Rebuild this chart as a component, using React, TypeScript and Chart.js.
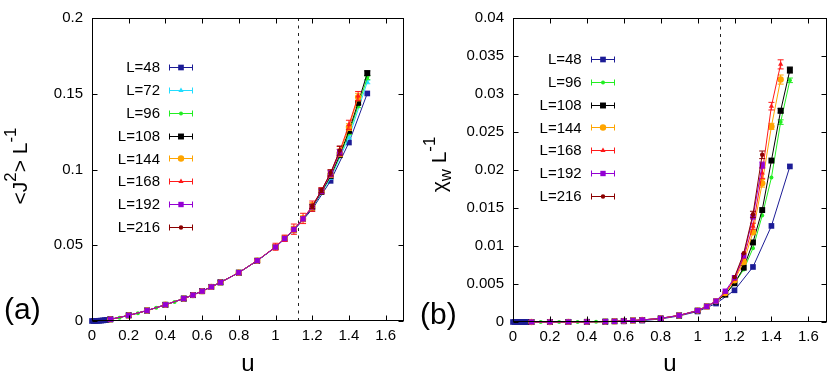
import React, { useEffect, useRef } from "react";
import { Chart, registerables } from "chart.js";
Chart.register(...registerables);

const FONT = '"Liberation Sans", Arial, Helvetica, sans-serif';

// ---------- data ----------
const LABELS = ["L=48", "L=72", "L=96", "L=108", "L=144", "L=168", "L=192", "L=216"];
const COLORS = ["#1c1c96", "#22ddff", "#22ee22", "#000000", "#ffa500", "#ff1a1a", "#9400d3", "#8b0000"];
const STYLES = ["rect", "triangle", "circle", "rect", "circle", "triangle", "rect", "circle"];
const RADII = [4, 3, 2, 4.2, 3.2, 3, 3.8, 2.2];

const U48 = [0, 0.01, 0.02, 0.03, 0.04, 0.05, 0.06, 0.07, 0.08, 0.1, 0.2, 0.3, 0.4, 0.5, 0.6, 0.7, 0.8, 0.9, 1.0, 1.1, 1.2, 1.3, 1.4, 1.5];
const U72 = [0.1, 0.2, 0.3, 0.4, 0.5, 0.6, 0.7, 0.8, 0.9, 1.0, 1.1, 1.2, 1.3, 1.4, 1.5];
const U96 = [0.1, 0.15, 0.2, 0.25, 0.3, 0.35, 0.4, 0.45, 0.5, 0.6, 0.7, 0.8, 0.9, 1.0, 1.1, 1.15, 1.2, 1.25, 1.3, 1.35, 1.4, 1.45, 1.5];
const U108 = [0.1, 0.2, 0.3, 0.4, 0.5, 0.55, 0.6, 0.65, 0.7, 0.8, 0.9, 1.0, 1.05, 1.1, 1.15, 1.2, 1.25, 1.3, 1.35, 1.4, 1.45, 1.5];
const U144 = [0.1, 0.2, 0.3, 0.4, 0.5, 0.55, 0.6, 0.65, 0.7, 0.8, 0.9, 1.0, 1.05, 1.1, 1.15, 1.2, 1.25, 1.3, 1.35, 1.4, 1.45];
const U168 = [0.1, 0.2, 0.3, 0.4, 0.5, 0.55, 0.6, 0.65, 0.7, 0.8, 0.9, 1.0, 1.05, 1.1, 1.15, 1.2, 1.25, 1.3, 1.35, 1.4, 1.45];
const U192 = [0.1, 0.2, 0.3, 0.4, 0.5, 0.55, 0.6, 0.65, 0.7, 0.8, 0.9, 1.0, 1.05, 1.1, 1.15, 1.2, 1.25, 1.3, 1.35];
const U216 = [1.2, 1.25, 1.3, 1.35];

// panel (a): <J^2> / L
const J48 = [0, 0.00001, 0.00004, 0.0001, 0.00018, 0.00028, 0.0004, 0.00054, 0.0007, 0.0011, 0.0038, 0.0069, 0.0107, 0.0148, 0.0197, 0.0255, 0.0319, 0.0397, 0.0487, 0.0598, 0.0738, 0.0925, 0.1178, 0.1502];
const J72 = [0.0011, 0.0037, 0.0069, 0.0107, 0.0148, 0.0197, 0.0255, 0.0319, 0.0398, 0.0488, 0.0602, 0.0748, 0.0942, 0.1212, 0.1578];
const J96 = [0.0011, 0.0021, 0.0037, 0.0051, 0.0069, 0.0087, 0.0107, 0.0126, 0.0148, 0.0197, 0.0255, 0.0319, 0.0398, 0.0488, 0.0603, 0.0672, 0.0751, 0.0849, 0.0955, 0.1088, 0.124, 0.142, 0.1605];
const J108 = [0.0011, 0.0037, 0.0069, 0.0107, 0.0148, 0.0171, 0.0197, 0.0225, 0.0255, 0.0319, 0.0398, 0.0488, 0.0545, 0.0604, 0.0673, 0.0752, 0.0852, 0.0958, 0.1095, 0.1255, 0.144, 0.1636];
const J144 = [0.0011, 0.0037, 0.0069, 0.0107, 0.0148, 0.0171, 0.0197, 0.0225, 0.0255, 0.0319, 0.0398, 0.0489, 0.0545, 0.0605, 0.0675, 0.0756, 0.0858, 0.0966, 0.111, 0.128, 0.1478];
const J168 = [0.0011, 0.0037, 0.0069, 0.0107, 0.0148, 0.0171, 0.0197, 0.0225, 0.0255, 0.032, 0.0399, 0.049, 0.0546, 0.0606, 0.0677, 0.0758, 0.086, 0.0975, 0.1122, 0.1295, 0.1485];
const J192 = [0.0011, 0.0037, 0.0069, 0.0107, 0.0148, 0.0171, 0.0197, 0.0225, 0.0255, 0.0319, 0.0398, 0.0488, 0.0544, 0.0604, 0.0674, 0.0754, 0.0856, 0.0972, 0.1112];
const J216 = [0.0757, 0.0862, 0.0978, 0.1125];
// error bars (last points of each series)
const EJ72 = [0.001, 0.0012];
const EJ96 = [0.001, 0.0012, 0.0012];
const EJ108 = [0.001, 0.0012, 0.0015];
const EJ144 = [0.0012, 0.0015, 0.0015, 0.002, 0.002, 0.0025, 0.0015, 0.0018, 0.0025, 0.0022, 0.0025];
const EJ168 = [0.0012, 0.0023, 0.0021, 0.0034, 0.0034, 0.0034, 0.002, 0.0022, 0.003, 0.003, 0.003];
const EJ192 = [0.0015, 0.002, 0.002];
const EJ216 = [0.0015, 0.0015, 0.002, 0.003];

// panel (b): chi_w / L
const X48 = [0, 0, 0, 0, 0, 0, 0, 0, 0, 0.000002, 0.000005, 0.00001, 0.00002, 0.00004, 0.00008, 0.00018, 0.0004, 0.0008, 0.00138, 0.00243, 0.00417, 0.00724, 0.01264, 0.02047];
const X96 = [0, 0.000002, 0.000004, 0.000006, 0.000009, 0.000013, 0.00002, 0.00003, 0.00005, 0.00013, 0.00026, 0.00047, 0.00086, 0.0015, 0.0027, 0.0037, 0.0051, 0.0069, 0.0097, 0.014, 0.019, 0.0263, 0.0318];
const X108 = [0.000001, 0.000004, 0.00001, 0.00002, 0.00005, 0.00009, 0.00014, 0.0002, 0.00027, 0.00048, 0.00087, 0.0015, 0.00205, 0.0027, 0.0036, 0.0051, 0.00715, 0.01047, 0.01473, 0.02124, 0.0278, 0.03315];
const X144 = [0.000001, 0.000004, 0.00001, 0.00002, 0.00005, 0.00009, 0.00014, 0.0002, 0.00027, 0.00048, 0.00087, 0.0015, 0.00205, 0.00275, 0.0038, 0.0055, 0.0079, 0.0118, 0.01825, 0.02574, 0.0319];
const X168 = [0.000001, 0.000004, 0.00001, 0.00002, 0.00005, 0.00009, 0.00014, 0.0002, 0.00027, 0.00048, 0.00087, 0.0015, 0.00205, 0.00275, 0.0039, 0.0056, 0.0085, 0.0126, 0.0196, 0.0284, 0.0339];
const X192 = [0.000001, 0.000004, 0.00001, 0.00002, 0.00005, 0.00009, 0.00014, 0.0002, 0.00027, 0.00048, 0.00087, 0.0015, 0.00205, 0.00275, 0.00405, 0.00583, 0.00873, 0.01383, 0.02064];
const X216 = [0.0059, 0.00906, 0.01417, 0.022];
const EX96 = [0.0003, 0.0003];
const EX108 = [0.0003, 0.0004];
const EX144 = [0.0005, 0.0004, 0.0006];
const EX168 = [0.0004, 0.0007, 0.0005, 0.0006];
const EX192 = [0.0004];
const EX216 = [0.0004, 0.0005];

const X_TICK_STEP = 0.2;
const U_MARK = 1.123;

// ---------- helpers ----------
type Series = { label: string; u: number[]; v: number[]; err: number[]; color: string; style: string; r: number };
type Seg = { t: string; sup?: boolean; sub?: boolean };

function tail(e: number[], n: number): number[] {
  const out = new Array(n).fill(0);
  for (let i = 0; i < e.length; i++) out[n - e.length + i] = e[i];
  return out;
}
function mk(i: number, u: number[], v: number[], e: number[]): Series {
  return { label: LABELS[i], u, v, err: tail(e, u.length), color: COLORS[i], style: STYLES[i], r: RADII[i] };
}

const SERIES_A: Series[] = [
  mk(0, U48, J48, []),
  mk(1, U72, J72, EJ72),
  mk(2, U96, J96, EJ96),
  mk(3, U108, J108, EJ108),
  mk(4, U144, J144, EJ144),
  mk(5, U168, J168, EJ168),
  mk(6, U192, J192, EJ192),
  mk(7, U216, J216, EJ216),
];
const SERIES_B: Series[] = [
  mk(0, U48, X48, []),
  mk(2, U96, X96, EX96),
  mk(3, U108, X108, EX108),
  mk(4, U144, X144, EX144),
  mk(5, U168, X168, EX168),
  mk(6, U192, X192, EX192),
  mk(7, U216, X216, EX216),
];

function fmt(v: any) {
  return String(Math.round(Number(v) * 10000) / 10000);
}

function drawMarker(ctx: CanvasRenderingContext2D, style: string, r: number, x: number, y: number, color: string) {
  ctx.fillStyle = color;
  ctx.beginPath();
  if (style === "rect") {
    const s = r * Math.SQRT1_2;
    ctx.rect(x - s, y - s, 2 * s, 2 * s);
  } else if (style === "triangle") {
    let a = 0;
    ctx.moveTo(x + Math.sin(a) * r, y - Math.cos(a) * r);
    a += (2 * Math.PI) / 3;
    ctx.lineTo(x + Math.sin(a) * r, y - Math.cos(a) * r);
    a += (2 * Math.PI) / 3;
    ctx.lineTo(x + Math.sin(a) * r, y - Math.cos(a) * r);
    ctx.closePath();
  } else {
    ctx.arc(x, y, r, 0, Math.PI * 2);
  }
  ctx.fill();
}

function drawRich(ctx: CanvasRenderingContext2D, segs: Seg[], size: number, cx: number, cy: number, rotate: boolean) {
  ctx.save();
  ctx.translate(cx, cy);
  if (rotate) ctx.rotate(-Math.PI / 2);
  ctx.fillStyle = "#000";
  ctx.textBaseline = "alphabetic";
  ctx.textAlign = "left";
  const widths = segs.map((s) => {
    ctx.font = `${s.sup || s.sub ? size * 0.8 : size}px ${FONT}`;
    return ctx.measureText(s.t).width;
  });
  const total = widths.reduce((a, b) => a + b, 0);
  let x = -total / 2;
  segs.forEach((s, i) => {
    ctx.font = `${s.sup || s.sub ? size * 0.8 : size}px ${FONT}`;
    const dy = s.sup ? -size * 0.52 : s.sub ? size * 0.22 : 0;
    ctx.fillText(s.t, x, dy);
    x += widths[i];
  });
  ctx.restore();
}

type PanelCfg = {
  id: string;
  series: Series[];
  yMax: number;
  yStep: number;
  padTop: number;
  padRight: number;
  yWidth: number;
  xHeight: number;
  legend: { textX: number; x1: number; x2: number; y0: number; dy: number };
  title: Seg[];
  titleX: number;
  titleY: number;
  tag: string;
  tagX: number;
  tagY: number;
};

const PANEL_A: PanelCfg = {
  id: "a",
  series: SERIES_A,
  yMax: 0.2,
  yStep: 0.05,
  padTop: 9,
  padRight: 11,
  yWidth: 92,
  xHeight: 54,
  legend: { textX: 160, x1: 169, x2: 193, y0: 67.3, dy: 22.77 },
  title: [{ t: "<J" }, { t: "2", sup: true }, { t: "> L" }, { t: "-1", sup: true }],
  titleX: 27,
  titleY: 166,
  tag: "(a)",
  tagX: 4,
  tagY: 319,
};
const PANEL_B: PanelCfg = {
  id: "b",
  series: SERIES_B,
  yMax: 0.04,
  yStep: 0.005,
  padTop: 8,
  padRight: 4,
  yWidth: 98,
  xHeight: 53,
  legend: { textX: 166.7, x1: 176, x2: 200, y0: 59.3, dy: 22.73 },
  title: [{ t: "χ" }, { t: "w", sub: true }, { t: " L" }, { t: "-1", sup: true }],
  titleX: 31,
  titleY: 164.5,
  tag: "(b)",
  tagX: 5,
  tagY: 323.5,
};

function makePlugin(cfg: PanelCfg) {
  return {
    id: "decor_" + cfg.id,
    beforeDatasetsDraw(chart: any) {
      const { ctx, chartArea } = chart;
      const x = Math.round(chart.scales.x.getPixelForValue(U_MARK)) + 0.5;
      ctx.save();
      ctx.strokeStyle = "#222";
      ctx.lineWidth = 1;
      ctx.setLineDash([3, 4.5]);
      ctx.beginPath();
      ctx.moveTo(x, chartArea.bottom);
      ctx.lineTo(x, chartArea.top);
      ctx.stroke();
      ctx.restore();
    },
    afterDatasetDraw(chart: any, args: any) {
      const ds = chart.data.datasets[args.index];
      const meta = chart.getDatasetMeta(args.index);
      const ys = chart.scales.y;
      const errs: number[] = ds.err || [];
      const ctx = chart.ctx;
      ctx.save();
      ctx.strokeStyle = ds.borderColor;
      ctx.lineWidth = 1;
      meta.data.forEach((pt: any, k: number) => {
        const e = errs[k];
        if (!e) return;
        const v = ds.data[k].y;
        const y1 = ys.getPixelForValue(v + e);
        const y2 = ys.getPixelForValue(v - e);
        const x = pt.x;
        ctx.beginPath();
        ctx.moveTo(x, y1);
        ctx.lineTo(x, y2);
        ctx.moveTo(x - 3, y1);
        ctx.lineTo(x + 3, y1);
        ctx.moveTo(x - 3, y2);
        ctx.lineTo(x + 3, y2);
        ctx.stroke();
      });
      ctx.restore();
    },
    afterDraw(chart: any) {
      const { ctx, chartArea } = chart;
      const L = Math.round(chartArea.left) + 0.5;
      const R = Math.round(chartArea.right) - 0.5;
      const T = Math.round(chartArea.top) + 0.5;
      const B = Math.round(chartArea.bottom) - 0.5;
      ctx.save();
      ctx.strokeStyle = "#000";
      ctx.lineWidth = 1;
      ctx.setLineDash([]);
      ctx.strokeRect(L, T, R - L, B - T);
      // inner mirrored ticks
      ctx.beginPath();
      chart.scales.x.ticks.forEach((t: any) => {
        const x = Math.round(chart.scales.x.getPixelForValue(t.value)) + 0.5;
        ctx.moveTo(x, B);
        ctx.lineTo(x, B - 5);
        ctx.moveTo(x, T);
        ctx.lineTo(x, T + 5);
      });
      chart.scales.y.ticks.forEach((t: any) => {
        const y = Math.round(chart.scales.y.getPixelForValue(t.value)) + 0.5;
        ctx.moveTo(L, y);
        ctx.lineTo(L + 5, y);
        ctx.moveTo(R, y);
        ctx.lineTo(R - 5, y);
      });
      ctx.stroke();

      // legend
      const lg = cfg.legend;
      cfg.series.forEach((s, i) => {
        const y = lg.y0 + i * lg.dy;
        ctx.fillStyle = "#000";
        ctx.font = `15px ${FONT}`;
        ctx.textAlign = "right";
        ctx.textBaseline = "middle";
        ctx.fillText(s.label, lg.textX, y + 1);
        const yy = Math.round(y) + 0.5;
        ctx.strokeStyle = s.color;
        ctx.beginPath();
        ctx.moveTo(lg.x1, yy);
        ctx.lineTo(lg.x2, yy);
        ctx.moveTo(lg.x1 + 0.5, yy - 3);
        ctx.lineTo(lg.x1 + 0.5, yy + 3);
        ctx.moveTo(lg.x2 - 0.5, yy - 3);
        ctx.lineTo(lg.x2 - 0.5, yy + 3);
        ctx.stroke();
        drawMarker(ctx, s.style, s.r, (lg.x1 + lg.x2) / 2, yy, s.color);
      });

      // axis titles
      drawRich(ctx, cfg.title, 21, cfg.titleX, cfg.titleY, true);
      ctx.fillStyle = "#000";
      ctx.font = `24px ${FONT}`;
      ctx.textAlign = "center";
      ctx.textBaseline = "alphabetic";
      ctx.fillText("u", (chartArea.left + chartArea.right) / 2, 371);
      // panel tag
      ctx.font = `30px ${FONT}`;
      ctx.textAlign = "left";
      ctx.fillText(cfg.tag, cfg.tagX, cfg.tagY);
      ctx.restore();
    },
  };
}

function Panel({ cfg, left, width }: { cfg: PanelCfg; left: number; width: number }) {
  const ref = useRef<HTMLCanvasElement>(null);
  useEffect(() => {
    if (!ref.current) return;
    const n = cfg.series.length;
    const chart = new Chart(ref.current, {
      type: "line",
      data: {
        datasets: cfg.series.map((s, i) => ({
          label: s.label,
          data: s.u.map((x, k) => ({ x, y: s.v[k] })),
          err: s.err,
          borderColor: s.color,
          backgroundColor: s.color,
          borderWidth: 1,
          pointStyle: s.style as any,
          pointRadius: s.r,
          pointBorderWidth: 0,
          pointBackgroundColor: s.color,
          tension: 0,
          order: n - i,
          clip: false,
        })) as any,
      },
      options: {
        animation: false,
        responsive: false,
        devicePixelRatio: 1,
        events: [],
        layout: { padding: { top: cfg.padTop, right: cfg.padRight, left: 0, bottom: 0 } },
        plugins: { legend: { display: false }, tooltip: { enabled: false } },
        scales: {
          x: {
            type: "linear",
            min: 0,
            max: 1.7,
            grid: { display: false, drawTicks: false },
            border: { display: false },
            ticks: {
              stepSize: X_TICK_STEP,
              includeBounds: false,
              padding: 6,
              color: "#000",
              maxRotation: 0,
              autoSkip: false,
              font: { family: FONT, size: 15 },
              callback: fmt,
            },
            afterFit: (s: any) => {
              s.height = cfg.xHeight;
            },
          },
          y: {
            type: "linear",
            min: 0,
            max: cfg.yMax,
            grid: { display: false, drawTicks: false },
            border: { display: false },
            ticks: {
              stepSize: cfg.yStep,
              padding: 9,
              color: "#000",
              autoSkip: false,
              font: { family: FONT, size: 15 },
              callback: fmt,
            },
            afterFit: (s: any) => {
              s.width = cfg.yWidth;
            },
          },
        },
      } as any,
      plugins: [makePlugin(cfg)],
    });
    return () => chart.destroy();
  }, [cfg]);
  return (
    <canvas
      ref={ref}
      width={width}
      height={375}
      style={{ position: "absolute", left, top: 0, width, height: 375 }}
    />
  );
}

export default function App() {
  return (
    <div style={{ position: "absolute", left: 0, top: 0, width: 831, height: 375, background: "#fff", overflow: "hidden" }}>
      <Panel cfg={PANEL_A} left={0} width={415} />
      <Panel cfg={PANEL_B} left={415} width={416} />
    </div>
  );
}
